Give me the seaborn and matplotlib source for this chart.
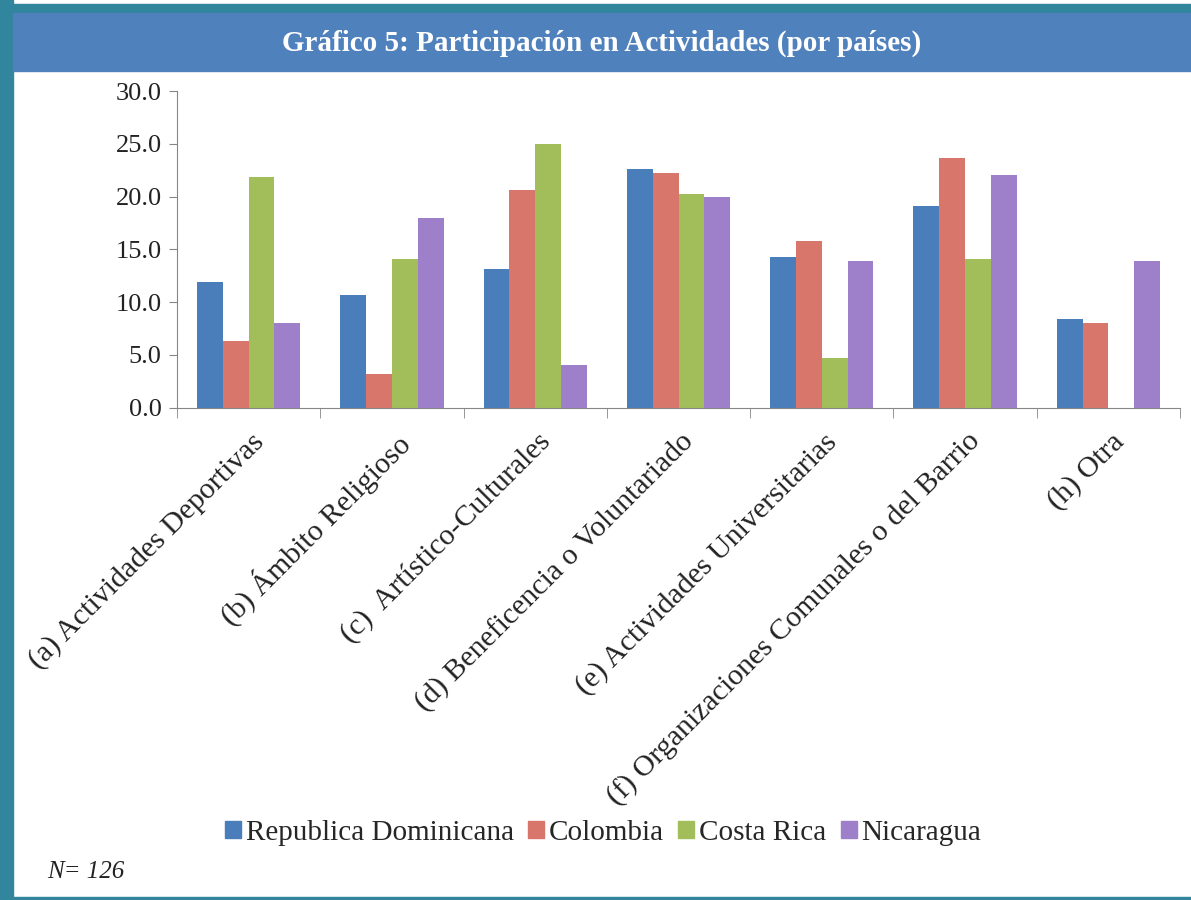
import numpy as np
import pandas as pd
import matplotlib
matplotlib.use('Agg')
import matplotlib.pyplot as plt
import matplotlib.transforms as mtransforms
from matplotlib.patches import Rectangle
import seaborn as sns

# datos
categorias = ['(a) Actividades Deportivas', '(b) Ámbito Religioso', '(c)  Artístico-Culturales',
              '(d) Beneficencia o Voluntariado', '(e) Actividades Universitarias',
              '(f) Organizaciones Comunales o del Barrio', '(h) Otra']
paises = ['Republica Dominicana', 'Colombia', 'Costa Rica', 'Nicaragua']
rep_dominicana = [11.9, 10.7, 13.1, 22.6, 14.3, 19.1, 8.4]
colombia = [6.3, 3.2, 20.6, 22.2, 15.8, 23.7, 8.0]
costa_rica = [21.9, 14.1, 25.0, 20.2, 4.7, 14.1, 0.0]
nicaragua = [8.0, 18.0, 4.0, 20.0, 13.9, 22.0, 13.9]
colores = ['#4A7EBB', '#D8766C', '#A2BE5A', '#9E80CA']

series = [rep_dominicana, colombia, costa_rica, nicaragua]
df = pd.DataFrame({
    'categoria': categorias * len(paises),
    'pais': np.repeat(paises, len(categorias)),
    'valor': np.concatenate(series),
})

sns.set_style('white')
plt.rcParams['font.family'] = ['Liberation Serif', 'DejaVu Serif']

fig = plt.figure(figsize=(11.91, 9), dpi=100)
W, H = 1191, 900

# marco y banda del titulo
teal = '#31859C'
fig.patches.append(Rectangle((0, 0), 13 / W, 1, transform=fig.transFigure, color=teal, zorder=0))
fig.patches.append(Rectangle((0, 0), 1, 3 / H, transform=fig.transFigure, color=teal, zorder=0))
fig.patches.append(Rectangle((0, 1 - 13 / H), 1, 9 / H, transform=fig.transFigure, color=teal, zorder=0))
fig.patches.append(Rectangle((13 / W, 1 - 71 / H), 1, 58 / H, transform=fig.transFigure,
                             color='#4F81BD', zorder=0))
fig.text(0.5 + 6 / W, 1 - 43 / H, 'Gráfico 5: Participación en Actividades (por países)',
         ha='center', va='center', color='white', fontsize=21, fontweight='bold')

ax = fig.add_axes([177 / W, 1 - 407.7 / H, (1180 - 177) / W, (407.7 - 91) / H])
sns.barplot(data=df, x='categoria', y='valor', hue='pais', palette=colores,
            width=0.72, saturation=1, linewidth=0, ax=ax)

ax.set_ylim(0, 30)
ax.set_xlim(-0.5, len(categorias) - 0.5)
ax.set_yticks(np.arange(0, 31, 5))
ax.set_yticklabels([f'{v:.1f}' for v in np.arange(0, 31, 5)], fontsize=19)
ax.set_xlabel('')
ax.set_ylabel('')
for s in ['top', 'right']:
    ax.spines[s].set_visible(False)
for s in ['left', 'bottom']:
    ax.spines[s].set_color('#868686')
ax.tick_params(axis='y', left=True, length=6, color='#868686', pad=5, labelcolor='#222222')

# ticks entre categorias
ax.set_xticks(np.arange(-0.5, len(categorias), 1), minor=True)
ax.tick_params(axis='x', which='minor', bottom=True, length=7, color='#868686')
ax.tick_params(axis='x', which='major', bottom=False, pad=4)
ax.set_xticks(range(len(categorias)))
ax.set_xticklabels(categorias, rotation=45, ha='right', va='top', rotation_mode='anchor',
                   fontsize=21.5, color='#222222')
offset = mtransforms.ScaledTranslation(2 / 100, -10 / 100, fig.dpi_scale_trans)
for lbl in ax.get_xticklabels():
    lbl.set_transform(lbl.get_transform() + offset)

ax.legend_.remove()
handles = [Rectangle((0, 0), 1, 1, color=c) for c in colores]
fig.legend(handles, paises, loc='center', bbox_to_anchor=(603 / W, 1 - 833 / H), ncol=4,
           frameon=False, fontsize=21, handlelength=0.55, handleheight=0.55,
           handletextpad=0.15, columnspacing=0.5)

fig.text(47 / W, 1 - 872 / H, 'N= 126', fontsize=18, style='italic', va='center', ha='left',
         color='#222222')

fig.savefig('out.png', dpi=100, facecolor='white')
